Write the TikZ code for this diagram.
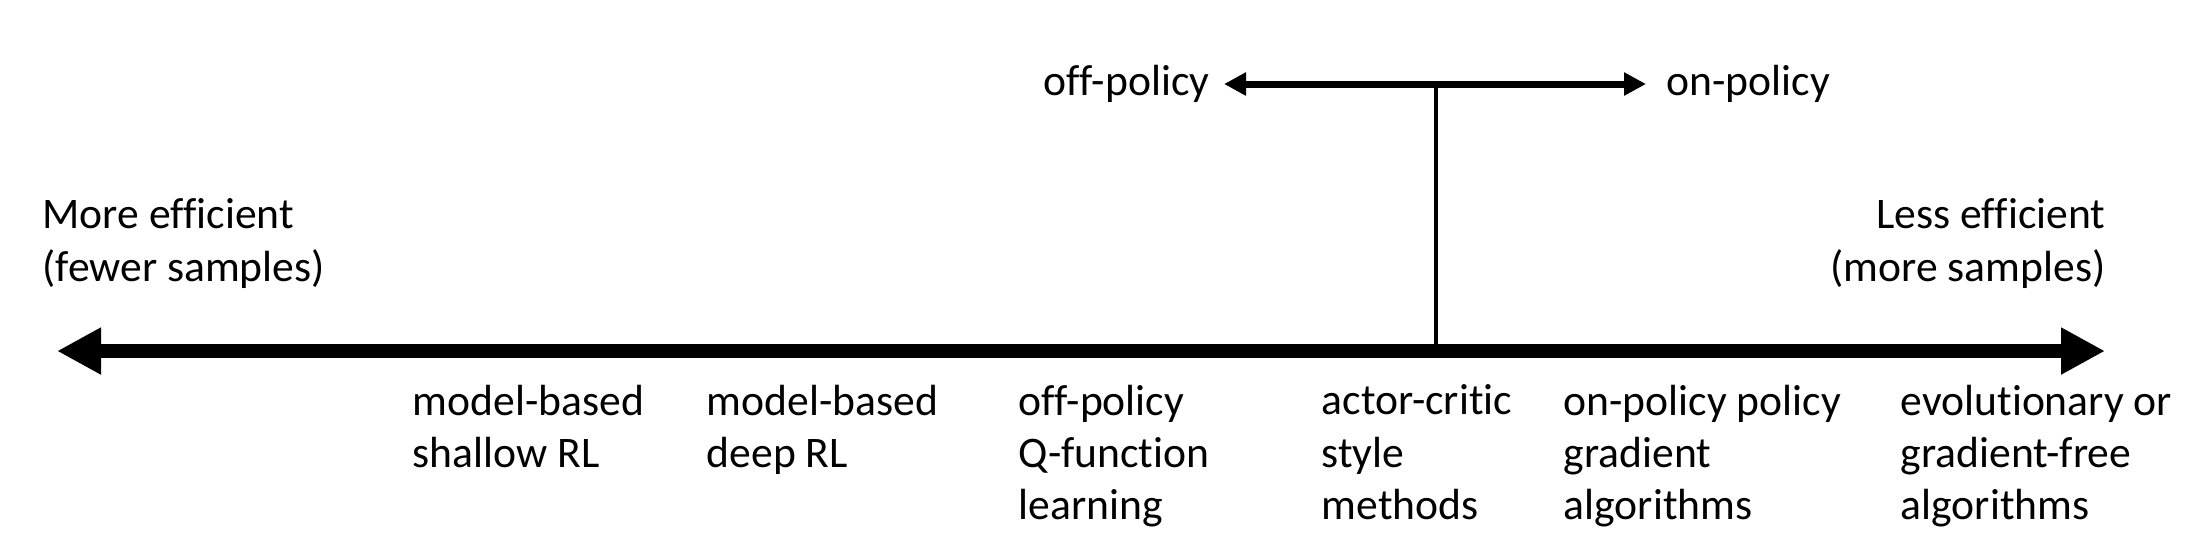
\documentclass[tikz,border=0pt]{standalone}
\usepackage{fontspec}
\setmainfont{Carlito}[Ligatures=NoCommon]
\usepackage{tikz}
\usetikzlibrary{positioning, arrows.meta}
\tikzset{
  lbl/.style={inner sep=0pt, align=left, anchor=north west,
              font=\fontsize{12.4}{14.9}\selectfont},
  axis/.style={{Triangle[length=0.44cm, width=0.44cm]}-{Triangle[length=0.44cm, width=0.44cm]},
               line width=0.14cm},
  polarr/.style={{Triangle[length=0.22cm, width=0.22cm]}-{Triangle[length=0.22cm, width=0.22cm]},
                 line width=0.07cm},
  stem/.style={line width=0.035cm}
}

\begin{document}
\begin{tikzpicture}[x=0.01cm, y=-0.01cm]
  \useasboundingbox (0,0) rectangle (2192,547);

  % ----- Main axis: sample efficiency -----
  \coordinate (axl) at (57,351);
  \coordinate (axr) at (2105,351);
  \draw[axis] (axl) -- (axr);

  % ----- End labels -----
  \node[lbl] (more) at (42,198) {More efficient\\(fewer samples)};
  \node[lbl, align=right, anchor=north east] (less) at (2106,198)
    {Less efficient\\(more samples)};

  % ----- Method families below the axis -----
  \node[lbl] (mbshallow) at (412,384) {model-based\\shallow RL};
  \node[lbl] (mbdeep)    at (706,384) {model-based\\deep RL};
  \node[lbl] (qlearn)    at (1018,384) {off-policy\\Q-function\\learning};
  \node[lbl] (actcrit)   at (1321,384) {actor-critic\\style\\methods};
  \node[lbl] (pgrad)     at (1563,384) {on-policy policy\\gradient\\algorithms};
  \node[lbl] (evol)      at (1900,384) {evolutionary or\\gradient-free\\algorithms};

  % ----- off-/on-policy split above actor-critic -----
  \coordinate (split) at (1436,84);
  \node[lbl, anchor=east] (off) at (1210,84) {off-policy};
  \node[lbl, anchor=west] (on)  at (1666,84) {on-policy};
  \draw[polarr, shorten <=0.14cm, shorten >=0.2cm] (off.east) -- (on.west);
  \draw[stem] (split) -- (split |- axl);

\end{tikzpicture}
\end{document}
